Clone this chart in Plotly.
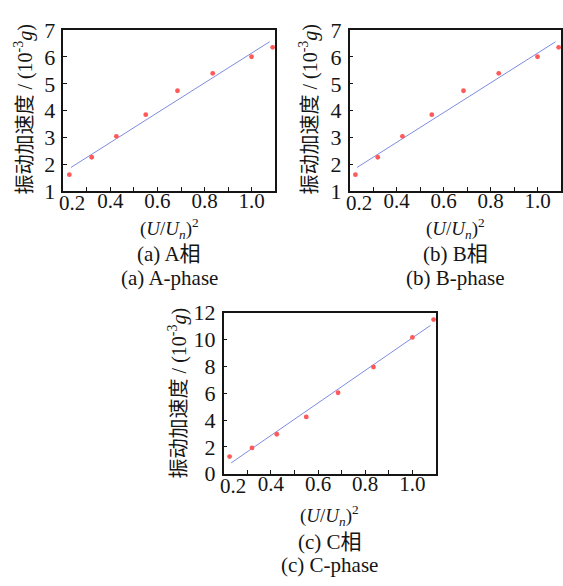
import plotly.graph_objects as go

W, H = 563, 586

# ---- data ----
x_vals = [0.225, 0.32, 0.425, 0.55, 0.685, 0.835, 1.0, 1.09]
a_vals = [1.61, 2.26, 3.04, 3.85, 4.74, 5.39, 6.01, 6.36]
b_vals = [1.61, 2.26, 3.04, 3.85, 4.74, 5.39, 6.01, 6.36]
c_vals = [1.28, 1.92, 2.94, 4.23, 6.03, 7.95, 10.15, 11.48]

fit_x = [0.232, 1.077]
fit_a = [1.88, 6.57]
fit_b = [1.88, 6.57]
fit_c = [0.81, 11.05]

x_tickvals = [0.2, 0.4, 0.6, 0.8, 1.0]
x_ticktext = ["0.2", "0.4", "0.6", "0.8", "1.0"]
x_minor = [0.3, 0.5, 0.7, 0.9]
y_ticks_ab = [1, 2, 3, 4, 5, 6, 7]
y_ticks_c = [0, 2, 4, 6, 8, 10, 12]

y_title = "振动加速度 / (10<sup>-3</sup><i>g</i>)"
x_title = "(<i>U</i>/<i>U<sub>n</sub></i>)<sup>2</sup>"
captions = [("(a) A相", "(a) A-phase"), ("(b) B相", "(b) B-phase"), ("(c) C相", "(c) C-phase")]

FONT = "Liberation Serif, Times New Roman, Noto Sans CJK SC, serif"
INK = "#151515"
RED = "#ff5a5a"
BLUE = "#7f8be0"

# panel pixel boxes: (left, right, top, bottom)
boxes = [(63.7, 276.0, 19, 187), (350.8, 563.2, 19, 187), (224.5, 437.5, 314, 482.3)]

def px(x):
    return x / W

def py(y):
    return 1 - y / H

fig = go.Figure()
series = [(a_vals, fit_a), (b_vals, fit_b), (c_vals, fit_c)]
for i, (vals, fit) in enumerate(series):
    xa = "x" if i == 0 else f"x{i+1}"
    ya = "y" if i == 0 else f"y{i+1}"
    fig.add_trace(go.Scatter(x=fit_x, y=fit, mode="lines", xaxis=xa, yaxis=ya,
                             line=dict(color=BLUE, width=1), showlegend=False, cliponaxis=False))
    fig.add_trace(go.Scatter(x=x_vals, y=vals, mode="markers", xaxis=xa, yaxis=ya,
                             marker=dict(color=RED, size=4.8, line=dict(width=0)), showlegend=False,
                             cliponaxis=False))

layout = dict(width=W, height=H, margin=dict(l=0, r=0, t=0, b=0),
              paper_bgcolor="white", plot_bgcolor="white", font=dict(family=FONT, color=INK))

for i, (l, r, t, b) in enumerate(boxes):
    xk = "xaxis" if i == 0 else f"xaxis{i+1}"
    yk = "yaxis" if i == 0 else f"yaxis{i+1}"
    ya = "y" if i == 0 else f"y{i+1}"
    xa = "x" if i == 0 else f"x{i+1}"
    # first label (0.2) is drawn as a nudged annotation, as in the reference
    layout[xk] = dict(domain=[px(l), min(px(r), 1.0)], anchor=ya, range=[0.2, 1.1],
                      tickvals=x_tickvals[1:], ticktext=x_ticktext[1:], ticks="inside", ticklen=4,
                      tickwidth=1.2, tickcolor=INK, ticklabelstandoff=-10,
                      minor=dict(tickvals=x_minor, ticks="inside", ticklen=4,
                                 tickwidth=1.2, tickcolor=INK, showgrid=False),
                      showline=True, linecolor=INK, linewidth=1.5,
                      mirror=True, showgrid=False, zeroline=False,
                      tickfont=dict(size=21, family=FONT, color=INK))
    yt = y_ticks_c if i == 2 else y_ticks_ab
    layout[yk] = dict(domain=[py(b), py(t)], anchor=xa, range=[yt[0], yt[-1]],
                      tickvals=yt, ticks="inside", ticklen=4, tickwidth=1.2, tickcolor=INK,
                      showline=True, linecolor=INK, linewidth=1.5, mirror=True,
                      showgrid=False, zeroline=False, ticklabelstandoff=2,
                      tickfont=dict(size=22, family=FONT, color=INK))

fig.update_layout(**layout)

# annotations (pixel positions)
ytitle_pos = [(24, 101), (310, 101), (178, 398)]
tick02_y = [200, 200, 495]
xtitle_pos = [(170, 226), (457, 226), (331, 526)]
cap_pos = [((170, 253), (170, 278)), ((457, 253), (457, 278)), ((331, 554), (331, 578))]

anns = []
for i in range(3):
    xa = "x" if i == 0 else f"x{i+1}"
    anns.append(dict(x=x_tickvals[0], xref=xa, y=py(tick02_y[i]), yref="paper",
                     text=x_ticktext[0], showarrow=False, xanchor="center", yanchor="middle",
                     xshift=9, font=dict(size=21, family=FONT, color=INK)))
    x0, y0 = ytitle_pos[i]
    anns.append(dict(x=px(x0), y=py(y0), xref="paper", yref="paper", text=y_title,
                     textangle=-90, showarrow=False, xanchor="center", yanchor="middle",
                     font=dict(size=20, family=FONT, color=INK)))
    x1, y1 = xtitle_pos[i]
    anns.append(dict(x=px(x1), y=py(y1), xref="paper", yref="paper", text=x_title,
                     showarrow=False, xanchor="center", yanchor="middle",
                     font=dict(size=19, family=FONT, color=INK)))
    (cx1, cy1), (cx2, cy2) = cap_pos[i]
    anns.append(dict(x=px(cx1), y=py(cy1), xref="paper", yref="paper", text=captions[i][0],
                     showarrow=False, xanchor="center", yanchor="middle",
                     font=dict(size=21, family=FONT, color=INK)))
    anns.append(dict(x=px(cx2), y=py(cy2), xref="paper", yref="paper", text=captions[i][1],
                     showarrow=False, xanchor="center", yanchor="middle",
                     font=dict(size=21, family=FONT, color=INK)))

fig.update_layout(annotations=anns)
fig.write_html("out.html")
